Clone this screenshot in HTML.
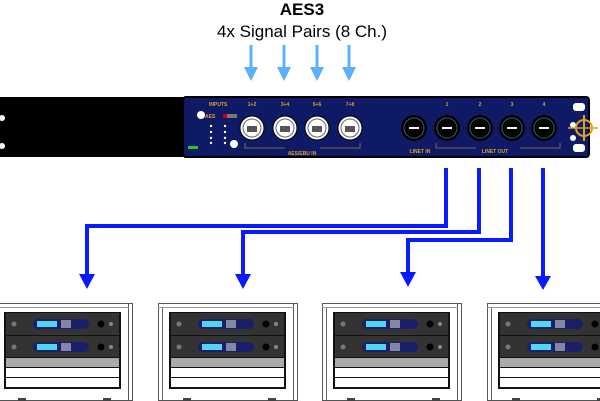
<!DOCTYPE html>
<html><head><meta charset="utf-8"><style>
html,body{margin:0;padding:0;background:#fff;}
svg{display:block;font-family:"Liberation Sans",sans-serif;}
</style></head><body>
<svg width="600" height="401" viewBox="0 0 600 401" xmlns="http://www.w3.org/2000/svg">
<defs>
<g id="rack">
  <rect x="0.5" y="303.5" width="139" height="97" fill="#fff" stroke="#555" stroke-width="1"/>
  <line x1="4.5" y1="307" x2="4.5" y2="400" stroke="#666"/>
  <line x1="135.5" y1="303" x2="135.5" y2="400" stroke="#555"/>
  <line x1="0" y1="307.5" x2="136" y2="307.5" stroke="#999"/>
  <rect x="11" y="312" width="117" height="77" fill="#111"/>
  <rect x="13" y="313" width="113" height="22" fill="#333"/>
  <rect x="13" y="336" width="113" height="21" fill="#333"/>
  <rect x="40" y="319" width="56" height="10" rx="5" fill="#1a1f6a"/>
  <rect x="40" y="342" width="56" height="10" rx="5" fill="#1a1f6a"/>
  <rect x="44" y="321" width="20" height="6" fill="#4fd6f0"/>
  <rect x="44" y="344" width="20" height="6" fill="#4fd6f0"/>
  <rect x="68" y="320" width="10" height="8" fill="#ccc" opacity=".6"/>
  <rect x="68" y="343" width="10" height="8" fill="#ccc" opacity=".6"/>
  <circle cx="21" cy="324" r="2.5" fill="#777"/><circle cx="21" cy="347" r="2.5" fill="#777"/>
  <circle cx="108" cy="324" r="3.5" fill="#000"/><circle cx="108" cy="347" r="3.5" fill="#000"/>
  <circle cx="118" cy="324" r="2" fill="#888"/><circle cx="118" cy="347" r="2" fill="#888"/>
  <rect x="13" y="358" width="113" height="9" fill="#aaa"/>
  <rect x="13" y="368" width="113" height="9" fill="#fff"/>
  <rect x="13" y="378" width="113" height="9" fill="#fff"/>
  <rect x="25" y="398" width="8" height="3" fill="#444"/><rect x="110" y="398" width="8" height="3" fill="#444"/>
</g>
<g id="xlr">
  <circle r="12" fill="#fff" stroke="#000" stroke-width="1"/>
  <circle r="9" fill="none" stroke="#666"/>
  <rect x="-5" y="-2" width="10" height="6" fill="#555"/>
</g>
<g id="xo">
  <circle r="13" fill="#000"/>
  <circle r="10" fill="none" stroke="#555"/>
  <rect x="-5" y="-1" width="10" height="2" fill="#fff"/>
</g>
</defs>

<text x="302" y="15" text-anchor="middle" font-size="17" font-weight="bold">AES3</text>
<text x="302" y="37" text-anchor="middle" font-size="17">4x Signal Pairs (8 Ch.)</text>

<g fill="#5ab0ff" stroke="#5ab0ff">
  <g stroke-width="3">
    <line x1="251" y1="45" x2="251" y2="70"/><line x1="284" y1="45" x2="284" y2="70"/>
    <line x1="317" y1="45" x2="317" y2="70"/><line x1="349" y1="45" x2="349" y2="70"/>
  </g>
  <g stroke="none">
    <polygon points="244,67 258,67 251,81"/><polygon points="277,67 291,67 284,81"/>
    <polygon points="310,67 324,67 317,81"/><polygon points="342,67 356,67 349,81"/>
  </g>
</g>

<!-- panel -->
<rect x="0" y="97" width="183" height="60" fill="#000"/>
<rect x="183" y="97" width="406" height="60" rx="3" fill="#0f1a66" stroke="#000" stroke-width="2"/>
<circle cx="2" cy="118" r="3" fill="#fff"/><circle cx="2" cy="146" r="3" fill="#fff"/>
<circle cx="201" cy="115" r="4" fill="#fff"/><circle cx="234" cy="144" r="4" fill="#fff"/>
<rect x="188" y="146" width="10" height="3" fill="#2c2"/>
<g fill="#fff"><circle cx="211" cy="132" r="1.2"/><circle cx="225" cy="132" r="1.2"/><circle cx="211" cy="138" r="1.2"/><circle cx="225" cy="138" r="1.2"/><circle cx="211" cy="126" r="1.2"/><circle cx="225" cy="126" r="1.2"/><circle cx="211" cy="143" r="1.2"/><circle cx="225" cy="143" r="1.2"/></g>
<text x="209" y="106" font-size="5" fill="#d8a030" font-weight="bold">INPUTS</text>
<text x="205" y="118" font-size="5" fill="#d8a030" font-weight="bold">AES</text>
<rect x="223" y="114" width="4" height="4" fill="#c00"/><rect x="227" y="114" width="10" height="4" fill="#777"/>
<use href="#xlr" x="252" y="128"/><use href="#xlr" x="285" y="128"/><use href="#xlr" x="317" y="128"/><use href="#xlr" x="350" y="128"/>
<g fill="#d8a030" font-size="5" font-weight="bold" text-anchor="middle">
<text x="252" y="106">1+2</text><text x="285" y="106">3+4</text><text x="317" y="106">5+6</text><text x="350" y="106">7+8</text>
<text x="302" y="155">AES/EBU IN</text>
<text x="447" y="106">1</text><text x="480" y="106">2</text><text x="512" y="106">3</text><text x="544" y="106">4</text>
<text x="420" y="153">LINET IN</text><text x="495" y="153">LINET OUT</text>
</g>
<path d="M245 143v5h40M320 148h40v-5" stroke="#a08040" fill="none" stroke-width="0.8"/>
<path d="M436 143v5h40M520 148h40v-5" stroke="#a08040" fill="none" stroke-width="0.8"/>
<use href="#xo" x="414" y="128"/><use href="#xo" x="447" y="128"/><use href="#xo" x="480" y="128"/><use href="#xo" x="512" y="128"/><use href="#xo" x="544" y="128"/>
<rect x="573" y="103" width="12" height="8" rx="3" fill="#fff"/><rect x="573" y="144" width="12" height="8" rx="3" fill="#fff"/>
<circle cx="573" cy="125" r="3" fill="#fff"/><circle cx="573" cy="138" r="3" fill="#fff"/>
<circle cx="584" cy="128" r="8" fill="none" stroke="#e0a020" stroke-width="2"/>
<line x1="584" y1="115" x2="584" y2="141" stroke="#e0a020" stroke-width="2"/><line x1="568" y1="128" x2="598" y2="128" stroke="#e0a020" stroke-width="1.5"/>

<!-- connectors -->
<g fill="none" stroke="#0a1aff" stroke-width="4">
  <polyline points="446,168 446,226 87,226 87,276"/>
  <polyline points="479,168 479,232 243,232 243,276"/>
  <polyline points="511,168 511,240 408,240 408,274"/>
  <line x1="543" y1="168" x2="543" y2="278"/>
</g>
<g fill="#0a1aff">
  <polygon points="79,274 95,274 87,289"/>
  <polygon points="235,274 251,274 243,289"/>
  <polygon points="400,272 416,272 408,287"/>
  <polygon points="535,276 551,276 543,290"/>
</g>

<use href="#rack" x="-7"/><use href="#rack" x="158"/><use href="#rack" x="322"/><use href="#rack" x="487"/>
</svg>
</body></html>
